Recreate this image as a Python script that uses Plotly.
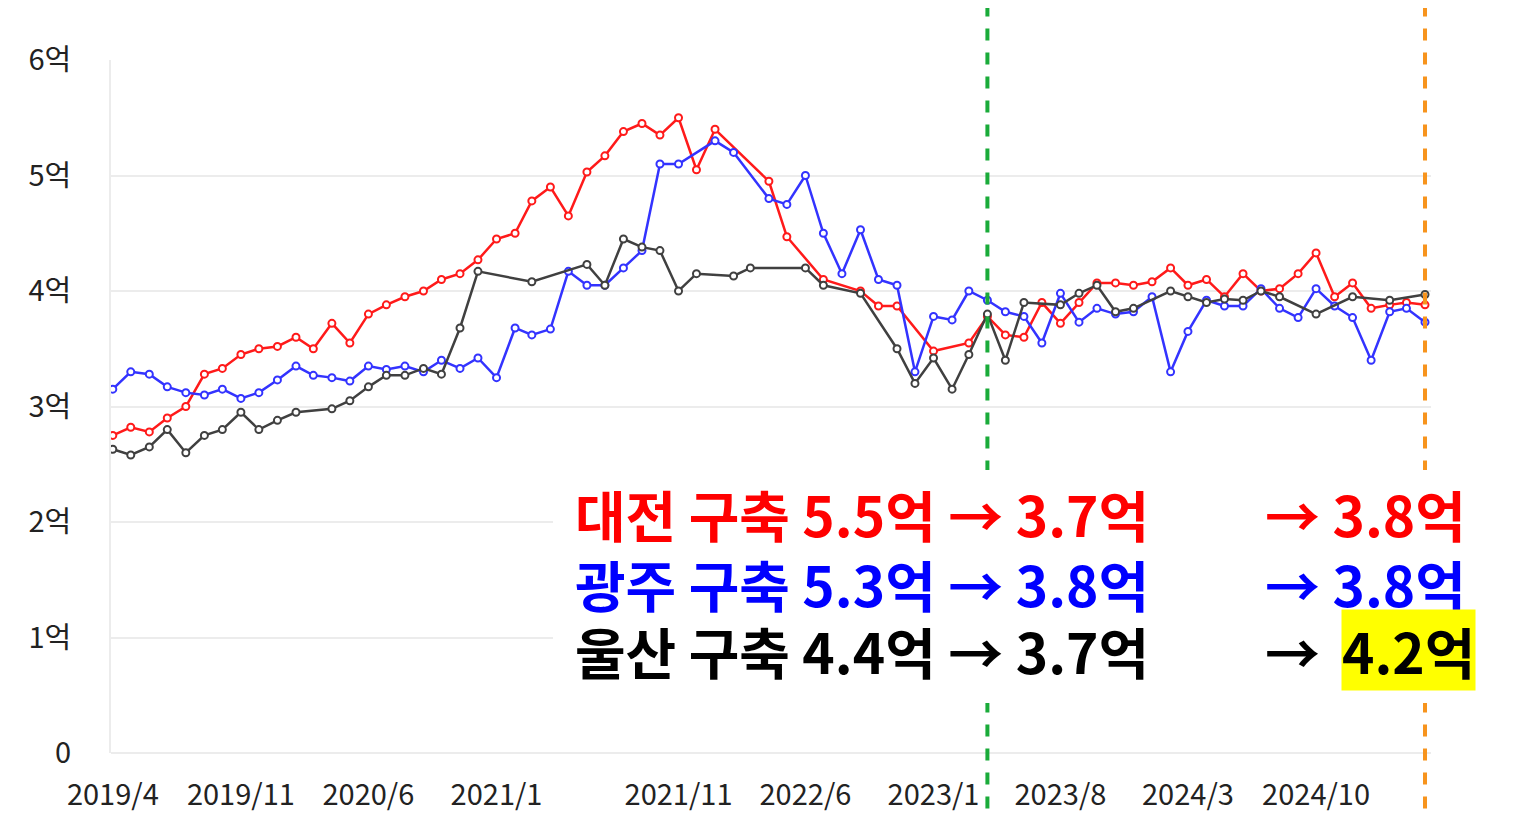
import plotly.graph_objects as go
import pandas as pd

# 월 오프셋 (2019/4 = 0)
start = pd.Timestamp("2019-04-01")

daejeon_m = list(range(0, 34)) + [36, 37, 39, 41, 42, 43, 45, 47] + list(range(48, 73))
daejeon_v = [2.75, 2.82, 2.78, 2.9, 3.0, 3.28, 3.33, 3.45, 3.5, 3.52, 3.6, 3.5, 3.72, 3.55, 3.8, 3.88, 3.95,
             4.0, 4.1, 4.15, 4.27, 4.45, 4.5, 4.78, 4.9, 4.65, 5.03, 5.17, 5.38, 5.45, 5.35, 5.5, 5.05, 5.4,
             4.95, 4.47, 4.1, 4.0, 3.87, 3.87, 3.48, 3.55,
             3.78, 3.62, 3.6, 3.9, 3.72, 3.9, 4.07, 4.07, 4.05, 4.08, 4.2, 4.05, 4.1, 3.95, 4.15, 4.0, 4.02,
             4.15, 4.33, 3.95, 4.07, 3.85, 3.88, 3.9, 3.88]

gwangju_m = list(range(0, 32)) + [33, 34] + list(range(36, 73))
gwangju_v = [3.15, 3.3, 3.28, 3.17, 3.12, 3.1, 3.15, 3.07, 3.12, 3.23, 3.35, 3.27, 3.25, 3.22, 3.35, 3.32,
             3.35, 3.3, 3.4, 3.33, 3.42, 3.25, 3.68, 3.62, 3.67, 4.17, 4.05, 4.05, 4.2, 4.35, 5.1, 5.1,
             5.3, 5.2,
             4.8, 4.75, 5.0, 4.5, 4.15, 4.53, 4.1, 4.05, 3.3, 3.78, 3.75, 4.0, 3.92, 3.82, 3.78, 3.55, 3.98,
             3.73, 3.85, 3.8, 3.82, 3.95, 3.3, 3.65, 3.92, 3.87, 3.87, 4.02, 3.85, 3.77, 4.02, 3.87, 3.77,
             3.4, 3.82, 3.85, 3.73]

ulsan_m = list(range(0, 11)) + [12, 13, 14, 15, 16, 17, 18, 19, 20, 23, 26, 27, 28, 29, 30, 31, 32, 34, 35,
                                38, 39, 41, 43, 44, 45, 46, 47, 48, 49, 50, 52, 53, 54, 55, 56, 58, 59, 60,
                                61, 62, 63, 64, 66, 68, 70, 72]
ulsan_v = [2.63, 2.58, 2.65, 2.8, 2.6, 2.75, 2.8, 2.95, 2.8, 2.88, 2.95, 2.98, 3.05, 3.17, 3.27, 3.27, 3.33,
           3.28, 3.68, 4.17, 4.08, 4.23, 4.05, 4.45, 4.38, 4.35, 4.0, 4.15, 4.13, 4.2, 4.2, 4.05, 3.98, 3.5,
           3.2, 3.42, 3.15, 3.45, 3.8, 3.4, 3.9, 3.88, 3.98, 4.05, 3.82, 3.85, 4.0, 3.95, 3.9, 3.93, 3.92,
           4.0, 3.95, 3.8, 3.95, 3.92, 3.97]

tick_m = [0, 7, 14, 21, 31, 38, 45, 52, 59, 66]
marker_lines = [(48, "#1aab3a"), (72, "#f7941d")]

L, R, T, B = 103, 97, 52, 88
PW, PH = 1520 - L - R, 833 - T - B


def px(x):
    return (x - L) / PW


def py(y):
    return (833 - B - y) / PH


def ym(m):
    return start + pd.DateOffset(months=m)


def lab(m):
    d = ym(m)
    return f"{d.year}/{d.month}"


fig = go.Figure()
for name, ms, vs, col in [("대전", daejeon_m, daejeon_v, "#ff1a1a"),
                          ("광주", gwangju_m, gwangju_v, "#3333ff"),
                          ("울산", ulsan_m, ulsan_v, "#404040")]:
    fig.add_trace(go.Scatter(x=[ym(m) for m in ms], y=vs, name=name, mode="lines+markers",
                             line=dict(color=col, width=2.5),
                             marker=dict(size=7, color="white", line=dict(color=col, width=2))))

for m, col in marker_lines:
    fig.add_shape(type="line", x0=ym(m), x1=ym(m), xref="x", yref="paper", y0=-0.08, y1=1.1,
                  line=dict(color=col, width=4, dash="dash"), layer="above")
# 텍스트 박스 배경
fig.add_shape(type="rect", xref="paper", yref="paper", x0=px(545), x1=1.05, y0=py(695), y1=py(462),
              fillcolor="white", line=dict(width=0), layer="above")

F = "Noto Sans CJK KR"
S = 55
rows = [("대전 구축 5.5억 → 3.7억", "→ 3.8억", "#ff0000", None, 505),
        ("광주 구축 5.3억 → 3.8억", "→ 3.8억", "#0000ff", None, 575),
        ("울산 구축 4.4억 → 3.7억", "→ ", "#000000", "4.2억", 642)]
for left, right, col, hl, y in rows:
    fig.add_annotation(text=f"<b>{left}</b>", x=px(565), y=py(y), xref="paper", yref="paper", xanchor="left",
                       yanchor="middle", showarrow=False, font=dict(family=F, size=S, color=col))
    fig.add_annotation(text=f"<b>{right}</b>", x=px(1255), y=py(y), xref="paper", yref="paper",
                       xanchor="left", yanchor="middle", showarrow=False,
                       font=dict(family=F, size=S, color=col))
    if hl:
        fig.add_annotation(text=f"<b>{hl}</b>", x=px(1468), y=py(y), xref="paper", yref="paper",
                           xanchor="right", yanchor="middle", showarrow=False, bgcolor="#ffff00",
                           borderpad=0, font=dict(family=F, size=S, color=col))

fig.update_layout(
    width=1520, height=833, margin=dict(l=L, r=R, t=T, b=B),
    paper_bgcolor="white", plot_bgcolor="white", showlegend=False,
    font=dict(family=F, size=29, color="#222"),
    xaxis=dict(tickvals=[ym(m) for m in tick_m], ticktext=[lab(m) for m in tick_m],
               range=[ym(0) - pd.Timedelta(days=3), ym(72) + pd.Timedelta(days=10)],
               showgrid=False, showline=False, ticks="", ticklabelstandoff=22),
    yaxis=dict(range=[0, 6], tickvals=[0, 1, 2, 3, 4, 5, 6],
               ticktext=["0", "1억", "2억", "3억", "4억", "5억", "6억"],
               showgrid=True, gridcolor="#ececec", gridwidth=2, zeroline=True, zerolinecolor="#ececec",
               zerolinewidth=2, showline=True, linecolor="#ececec", linewidth=2, ticklabelstandoff=32),
)

fig.write_html("out.html")
